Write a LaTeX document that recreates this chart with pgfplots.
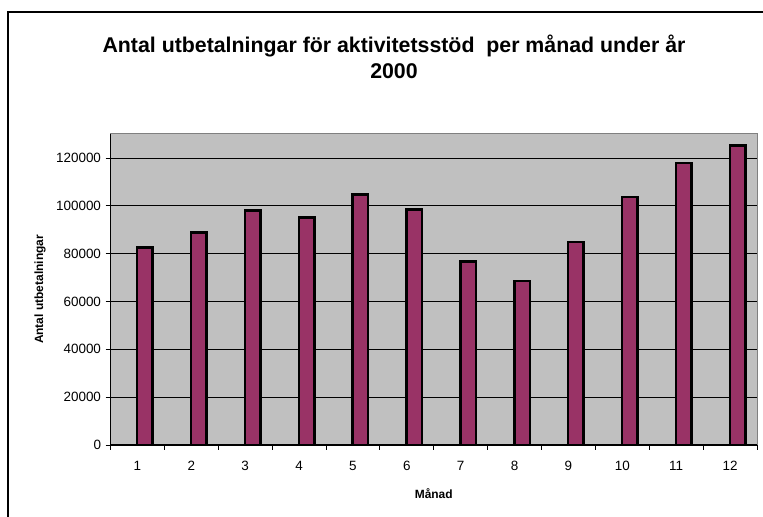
\documentclass[border=0pt]{standalone}
\usepackage{pgfplots}
\pgfplotsset{compat=1.18}
\usepackage{fontspec}
\setmainfont{Liberation Sans}

\definecolor{barfill}{HTML}{993366}
\definecolor{plotbg}{HTML}{C0C0C0}
\definecolor{frameg}{HTML}{808080}

\begin{document}
\begin{tikzpicture}[x=1bp,y=1bp]
  % page = chart area
  \path[use as bounding box] (0,0) rectangle (763,517);
  \draw[black, line width=1.2bp] (8,-2) -- (8,505) -- (765,505);

  \begin{axis}[
      at={(110.5bp,72bp)}, anchor=south west,
      scale only axis, width=646.5bp, height=311bp,
      xmin=0.5, xmax=12.5, ymin=0, ymax=130000,
      xtick={1,...,12},
      minor xtick={0.5,1.5,...,12.5},
      tick pos=left,
      major x tick style={draw=none},
      minor x tick style={black, line width=0.8bp},
      ytick={0,20000,...,120000},
      ymajorgrids,
      grid style={black, line width=0.8bp},
      tick align=outside,
      major tick length=5bp, minor tick length=5bp,
      y tick style={black, line width=0.8bp},
      axis line style={frameg, line width=1bp},
      axis background/.style={fill=plotbg},
      scaled y ticks=false,
      /pgf/number format/assume math mode=true,
      /pgf/number format/set thousands separator={},
      /pgf/number format/fixed,
      ticklabel style={font=\fontsize{13.5}{14}\selectfont},
      xticklabel style={yshift=-8bp},
      yticklabel style={xshift=-1bp},
      xlabel={\bfseries Månad},
      ylabel={\bfseries Antal utbetalningar},
      label style={font=\fontsize{12}{12}\selectfont},
      xlabel style={at={(rel axis cs:0.5,0)}, anchor=center, yshift=-49bp},
      ylabel style={at={(rel axis cs:0,0.5)}, anchor=center, yshift=70.5bp},
      after end axis/.code={
        \draw[black, line width=1.2bp] (rel axis cs:0,0) -- (rel axis cs:0,1);
        \draw[black, line width=1.2bp] (rel axis cs:0,0) -- (rel axis cs:1,0);
      },
    ]
    \addplot[ybar, bar width=15.5bp, bar shift=7.5bp,
             fill=barfill, draw=black, line width=2.5bp]
      coordinates {
        (1, 82500) (2, 88900) (3, 98000) (4, 95000)
        (5,104700) (6, 98500) (7, 76800) (8, 68500)
        (9, 84900) (10,103700) (11,117800) (12,125100)
      };
  \end{axis}

  \node[font=\fontsize{21.4}{26}\selectfont\bfseries, align=center]
    at (394,460) {Antal utbetalningar för aktivitetsstöd\ \ per månad under år\\2000};
\end{tikzpicture}
\end{document}
